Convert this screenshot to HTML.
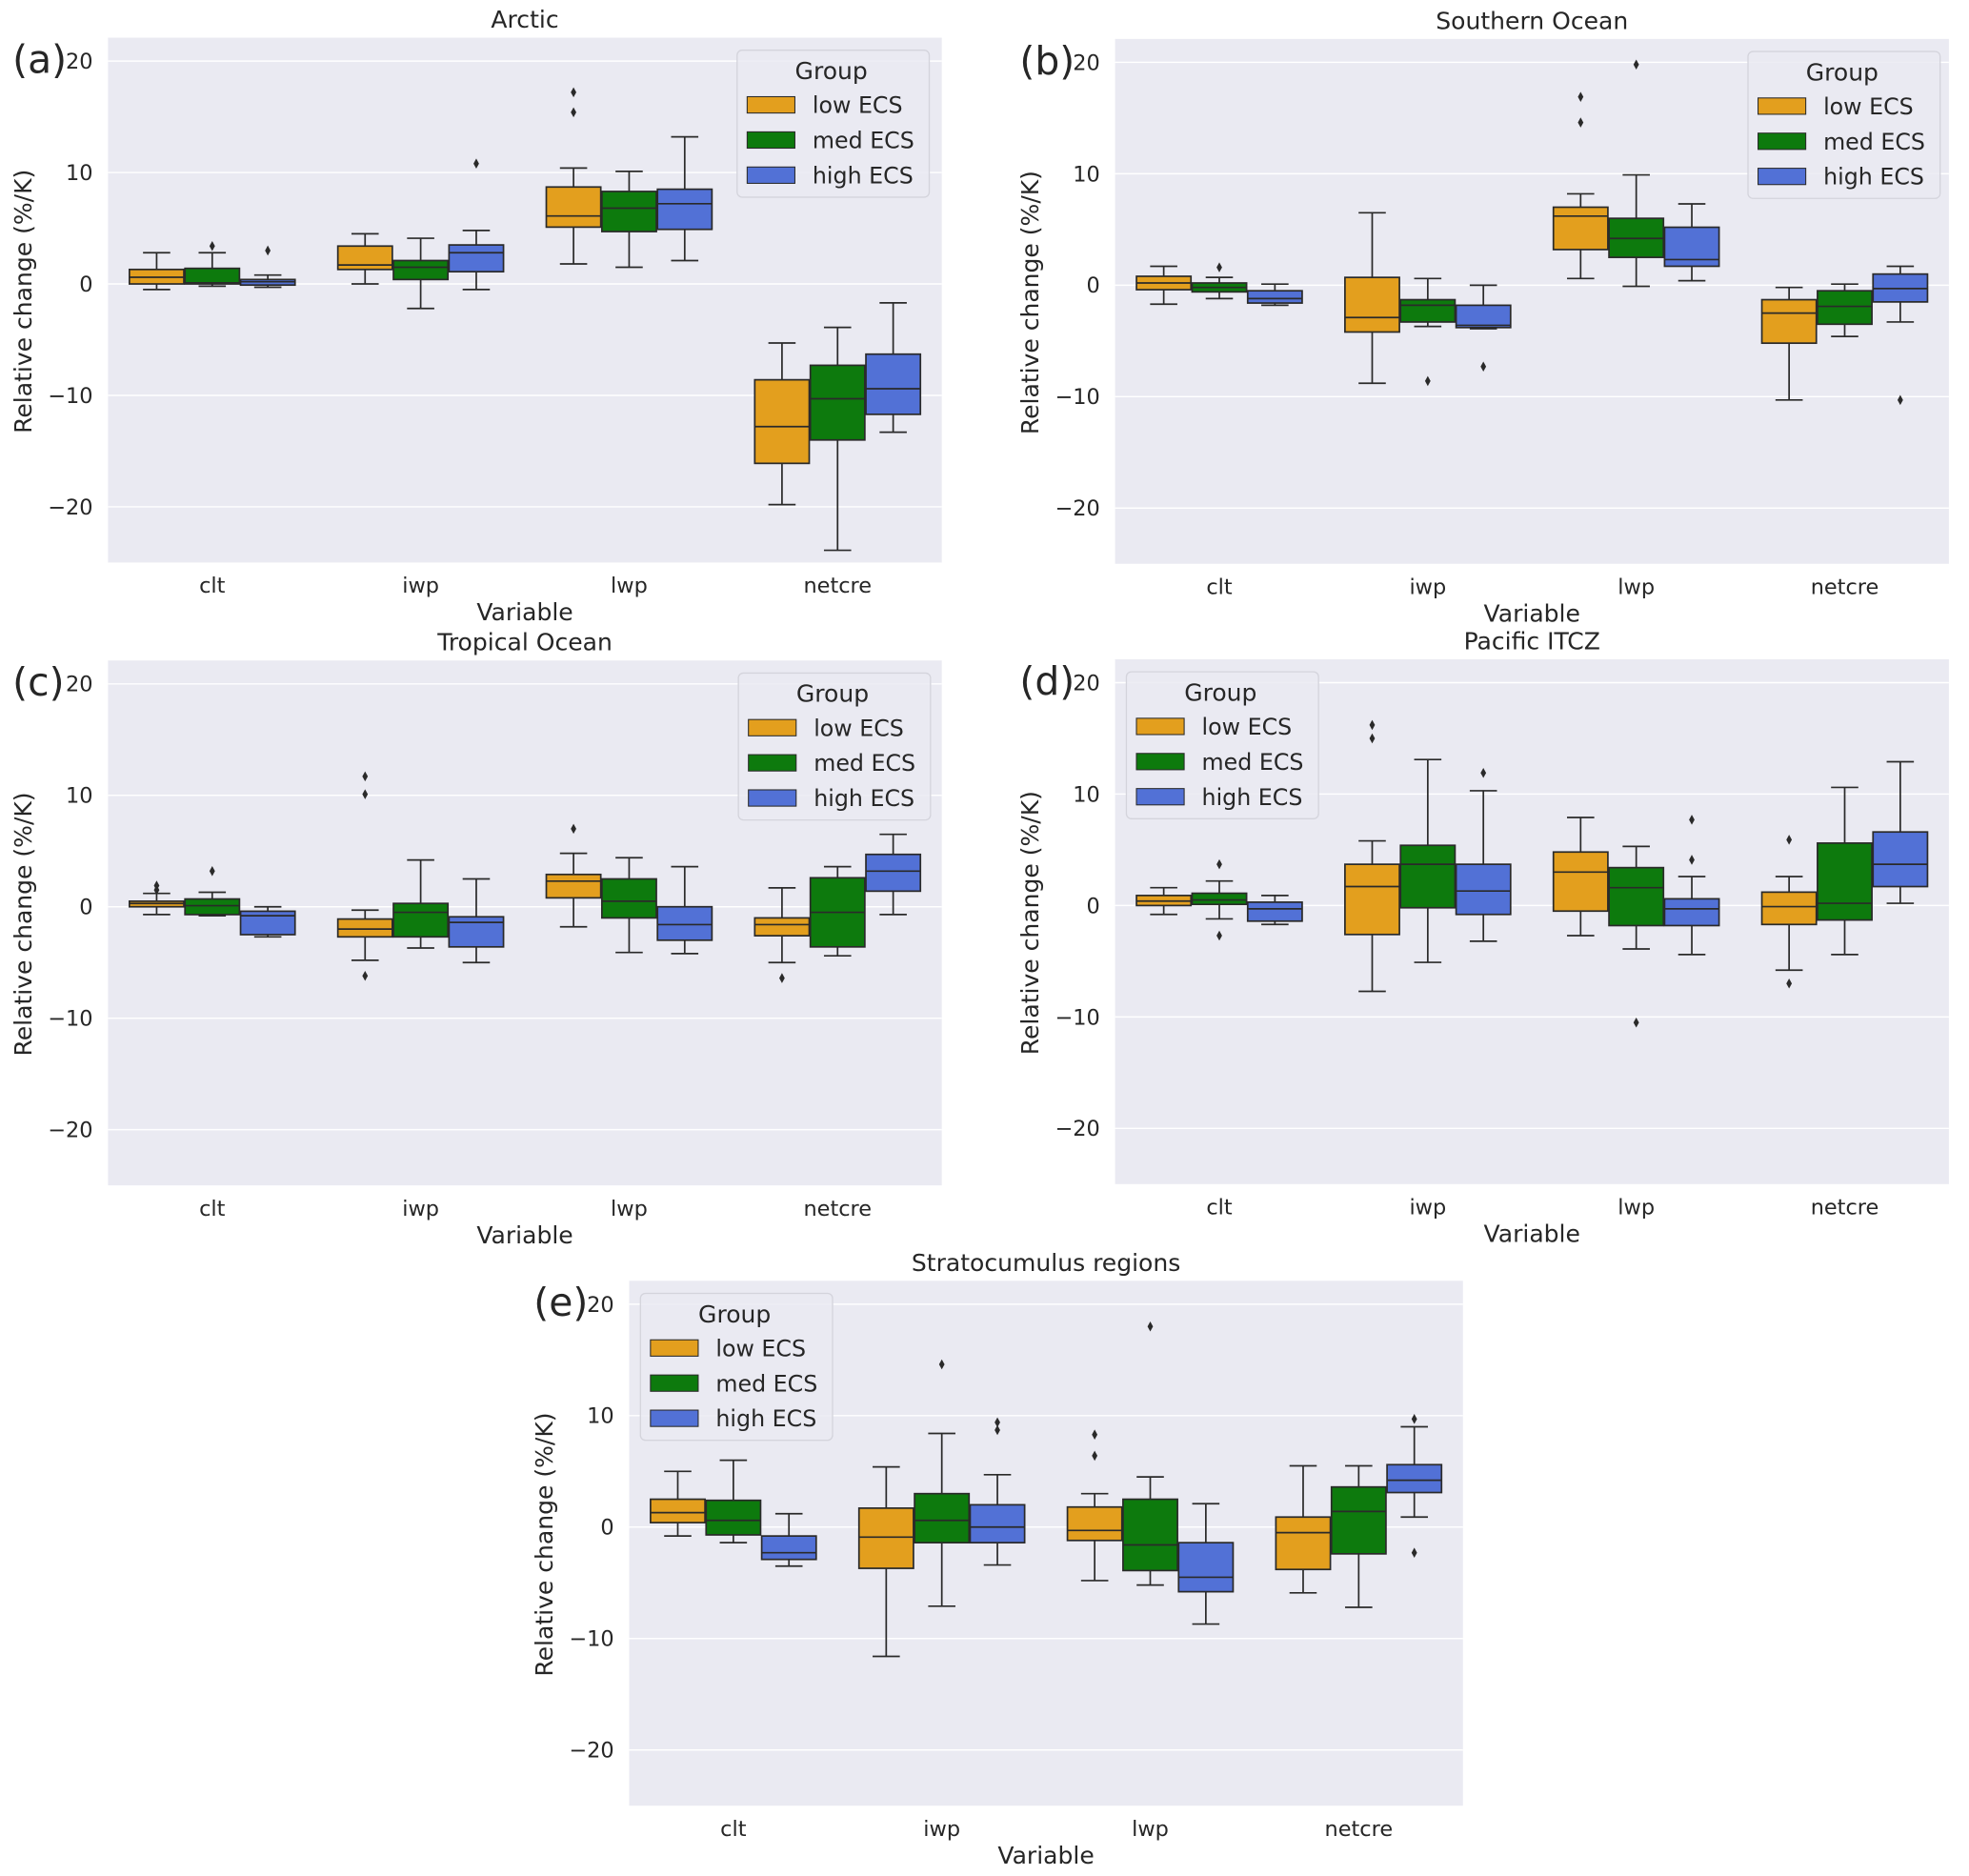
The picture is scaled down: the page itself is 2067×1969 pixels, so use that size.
<!DOCTYPE html>
<html><head><meta charset="utf-8"><style>
html,body{margin:0;padding:0;background:#fff}
svg{display:block}
text{font-family:"DejaVu Sans","Liberation Sans",sans-serif;fill:#262626}
</style></head><body>
<svg id="fig" width="2067" height="1969" viewBox="0 0 1568 1494" preserveAspectRatio="none" xmlns="http://www.w3.org/2000/svg"></svg>
<script>
const categories=["clt","iwp","lwp","netcre"];
const groups=["low ECS","med ECS","high ECS"];
const colors=["#e39f1e","#0d7a0d","#5271d6"];
const yTicks=[20,10,0,-10,-20];
// stats per category per group: [whiskerLow,q1,median,q3,whiskerHigh]
const arcticStats=[
 [[-0.5,0,0.6,1.3,2.8],[-0.2,0,0.1,1.4,2.8],[-0.3,-0.1,0.2,0.4,0.8]],
 [[0,1.3,1.7,3.4,4.5],[-2.2,0.4,1.5,2.1,4.1],[-0.5,1.1,2.8,3.5,4.8]],
 [[1.8,5.1,6.1,8.7,10.4],[1.5,4.7,6.8,8.3,10.1],[2.1,4.9,7.2,8.5,13.2]],
 [[-19.8,-16.1,-12.8,-8.6,-5.3],[-23.9,-14.0,-10.3,-7.3,-3.9],[-13.3,-11.7,-9.4,-6.3,-1.7]]];
const arcticOut=[[[],[3.4],[3.0]],[[],[],[10.8]],[[15.4,17.2],[],[]],[[],[],[]]];
const southernStats=[
 [[-1.7,-0.4,0.2,0.8,1.7],[-1.2,-0.6,-0.2,0.2,0.7],[-1.8,-1.6,-1.2,-0.5,0.1]],
 [[-8.8,-4.2,-2.9,0.7,6.5],[-3.7,-3.3,-1.8,-1.3,0.6],[-3.9,-3.8,-3.6,-1.8,0]],
 [[0.6,3.2,6.2,7.0,8.2],[-0.1,2.5,4.2,6.0,9.9],[0.4,1.7,2.3,5.2,7.3]],
 [[-10.3,-5.2,-2.5,-1.3,-0.2],[-4.6,-3.5,-1.9,-0.5,0.1],[-3.3,-1.5,-0.3,1.0,1.7]]];
const southernOut=[[[],[1.6],[]],[[],[-8.6],[-7.3]],[[14.6,16.9],[19.8],[]],[[],[],[-10.3]]];
const tropicalStats=[
 [[-0.7,0,0.3,0.5,1.2],[-0.8,-0.7,0.1,0.7,1.3],[-2.7,-2.5,-0.8,-0.4,0]],
 [[-4.8,-2.7,-2.0,-1.1,-0.3],[-3.7,-2.7,-0.5,0.3,4.2],[-5.0,-3.6,-1.4,-0.9,2.5]],
 [[-1.8,0.8,2.3,2.9,4.8],[-4.1,-1.0,0.5,2.5,4.4],[-4.2,-3.0,-1.6,0,3.6]],
 [[-5.0,-2.6,-1.6,-1.0,1.7],[-4.4,-3.6,-0.5,2.6,3.6],[-0.7,1.4,3.2,4.7,6.5]]];
const tropicalOut=[[[1.5,1.9],[3.2],[]],[[-6.2,10.1,11.7],[],[]],[[7.0],[],[]],[[-6.4],[],[]]];
const itczStats=[
 [[-0.8,0,0.4,0.9,1.6],[-1.2,0.1,0.5,1.1,2.2],[-1.7,-1.4,-0.3,0.3,0.9]],
 [[-7.7,-2.6,1.7,3.7,5.8],[-5.1,-0.2,3.7,5.4,13.1],[-3.2,-0.8,1.3,3.7,10.3]],
 [[-2.7,-0.5,3.0,4.8,7.9],[-3.9,-1.8,1.6,3.4,5.3],[-4.4,-1.8,-0.3,0.6,2.6]],
 [[-5.8,-1.7,-0.1,1.2,2.6],[-4.4,-1.3,0.2,5.6,10.6],[0.2,1.7,3.7,6.6,12.9]]];
const itczOut=[[[],[3.7,-2.7],[]],[[15.0,16.2],[],[11.9]],[[],[-10.5],[4.1,7.7]],[[5.9,-7.0],[],[]]];
const stratoStats=[
 [[-0.8,0.4,1.3,2.5,5.0],[-1.4,-0.7,0.6,2.4,6.0],[-3.5,-2.9,-2.3,-0.8,1.2]],
 [[-11.6,-3.7,-0.9,1.7,5.4],[-7.1,-1.4,0.6,3.0,8.4],[-3.4,-1.4,0,2.0,4.7]],
 [[-4.8,-1.2,-0.3,1.8,3.0],[-5.2,-3.9,-1.6,2.5,4.5],[-8.7,-5.8,-4.5,-1.4,2.1]],
 [[-5.9,-3.8,-0.5,0.9,5.5],[-7.2,-2.4,1.4,3.6,5.5],[0.9,3.1,4.2,5.6,9.0]]];
const stratoOut=[[[],[],[]],[[],[14.6],[8.7,9.4]],[[6.4,8.3],[18.0],[]],[[],[],[9.7,-2.3]]];

const panels=[
 {id:"arctic",title:"Arctic",letter:"(a)",x:86,y:30,stats:arcticStats,out:arcticOut,leg:[587,40]},
 {id:"southern-ocean",title:"Southern Ocean",letter:"(b)",x:888,y:31,stats:southernStats,out:southernOut,leg:[1392,41]},
 {id:"tropical-ocean",title:"Tropical Ocean",letter:"(c)",x:86,y:526,stats:tropicalStats,out:tropicalOut,leg:[588,536]},
 {id:"pacific-itcz",title:"Pacific ITCZ",letter:"(d)",x:888,y:525,stats:itczStats,out:itczOut,leg:[897,535]},
 {id:"stratocumulus",title:"Stratocumulus regions",letter:"(e)",x:501,y:1020,stats:stratoStats,out:stratoOut,leg:[510,1030]}];
const W=664,H=418,YMIN=-25,YMAX=22.1;
const EDGE='#2a2a2a';
const NS="http://www.w3.org/2000/svg";
const fig=document.getElementById('fig');
function mk(tag,attrs,parent,txt){const e=document.createElementNS(NS,tag);for(const k in attrs)e.setAttribute(k,attrs[k]);if(txt!==undefined)e.textContent=txt;parent.appendChild(e);return e;}
panels.forEach(p=>{
 const g=mk('g',{},fig);
 
 
 const ys=v=>p.y+(YMAX-v)/(YMAX-YMIN)*H;
 const cw=W/4;
 const xs=(ci,gi)=>p.x+(ci+0.5)*cw+(gi-1)*cw*0.8/3;
 const bg=mk('rect',{x:p.x,y:p.y,width:W,height:H,fill:'#eaeaf2'},g);
 
 
 yTicks.forEach(t=>{
  mk('line',{x1:p.x,x2:p.x+W,y1:ys(t),y2:ys(t),stroke:'#fff','stroke-width':1.1},g);
  const tl=mk('text',{x:p.x-12,y:ys(t)+6,'text-anchor':'end','font-size':17},g,t<0?'\u2212'+(-t):String(t));
  
  
 });
 categories.forEach((c,ci)=>{
  const xl=mk('text',{x:p.x+(ci+0.5)*cw,y:p.y+H+24,'text-anchor':'middle','font-size':17},g,c);
  
  
  groups.forEach((gn,gi)=>{
   const s=p.stats[ci][gi];const cx=xs(ci,gi);const bw=cw*0.8/3*0.98;const cap=bw/2;
   const bx=mk('g',{},g);
   
   
   mk('line',{x1:cx,x2:cx,y1:ys(s[0]),y2:ys(s[1]),stroke:EDGE,'stroke-width':1.3},bx);
   mk('line',{x1:cx,x2:cx,y1:ys(s[3]),y2:ys(s[4]),stroke:EDGE,'stroke-width':1.3},bx);
   mk('line',{x1:cx-cap/2,x2:cx+cap/2,y1:ys(s[0]),y2:ys(s[0]),stroke:EDGE,'stroke-width':1.3},bx);
   mk('line',{x1:cx-cap/2,x2:cx+cap/2,y1:ys(s[4]),y2:ys(s[4]),stroke:EDGE,'stroke-width':1.3},bx);
   mk('rect',{x:cx-bw/2,y:ys(s[3]),width:bw,height:Math.max(ys(s[1])-ys(s[3]),0.5),fill:colors[gi],stroke:EDGE,'stroke-width':1.3},bx);
   mk('line',{x1:cx-bw/2,x2:cx+bw/2,y1:ys(s[2]),y2:ys(s[2]),stroke:EDGE,'stroke-width':1.3},bx);
   p.out[ci][gi].forEach(o=>{
    const d=mk('path',{d:`M${cx},${ys(o)-4} L${cx+2.2},${ys(o)} L${cx},${ys(o)+4} L${cx-2.2},${ys(o)} Z`,fill:EDGE},bx);
    
    
   });
  });
 });
 const tt=mk('text',{x:p.x+W/2,y:p.y-8,'text-anchor':'middle','font-size':19},g,p.title);
 
 
 const lt=mk('text',{x:p.x-76,y:p.y+28,'font-size':31,'font-family':'Liberation Sans, sans-serif'},g,p.letter);
 
 
 const xa=mk('text',{x:p.x+W/2,y:p.y+H+46,'text-anchor':'middle','font-size':19},g,'Variable');
 
 
 const ya=mk('text',{x:0,y:0,'text-anchor':'middle','font-size':19,transform:`translate(${p.x-61},${p.y+H/2+1}) rotate(-90)`},g,'Relative change (%/K)');
 
 
 const lg=mk('g',{},g);
 
 
 const [lx,ly]=p.leg;
 mk('rect',{x:lx,y:ly,width:153,height:117,rx:4,fill:'#eaeaf2','fill-opacity':0.85,stroke:'#d4d4dc'},lg);
 mk('text',{x:lx+75,y:ly+23,'text-anchor':'middle','font-size':19},lg,'Group');
 groups.forEach((gn,gi)=>{
  const e=mk('g',{},lg);
  
  
  const yy=ly+37+gi*28;
  mk('rect',{x:lx+8,y:yy,width:38,height:13,fill:colors[gi],stroke:EDGE,'stroke-width':0.8},e);
  mk('text',{x:lx+60,y:yy+13,'font-size':18},e,gn);
 });
});
</script>
</body></html>
